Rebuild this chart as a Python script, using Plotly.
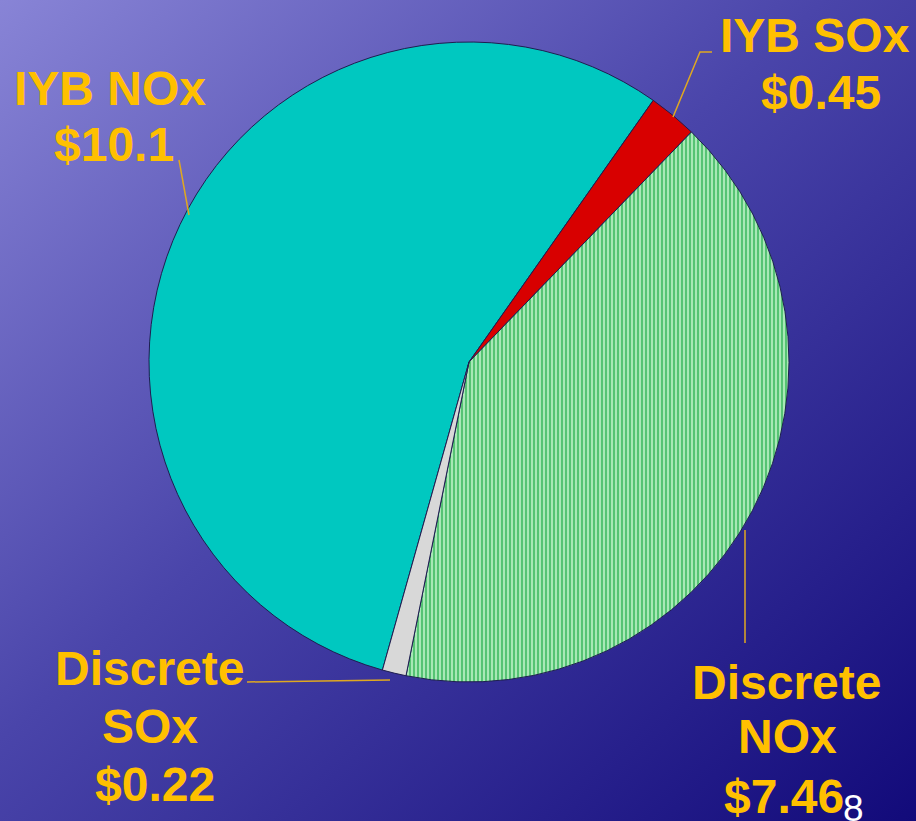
import base64
import plotly.graph_objects as go

# slice data, clockwise from the IYB NOx slice
labels = ["IYB NOx", "IYB SOx", "Discrete NOx", "Discrete SOx"]
values = [10.1, 0.45, 7.46, 0.22]
value_text = ["$10.1", "$0.45", "$7.46", "$0.22"]
label_lines = [["IYB NOx"], ["IYB SOx"], ["Discrete", "NOx"], ["Discrete", "SOx"]]

W, H = 916, 821
GOLD = "#FFC000"
FONT = "Liberation Sans, Arial, sans-serif"


def px(x, y):
    return x / W, 1 - y / H


# gradient background as an inline svg
svg = (
    f"<svg xmlns='http://www.w3.org/2000/svg' width='{W}' height='{H}'>"
    "<defs><linearGradient id='g' x1='0' y1='0' x2='1' y2='1'>"
    "<stop offset='0' stop-color='#8884D6'/>"
    "<stop offset='0.45' stop-color='#4A45AA'/>"
    "<stop offset='1' stop-color='#120A7A'/>"
    "</linearGradient></defs>"
    f"<rect width='{W}' height='{H}' fill='url(#g)'/></svg>"
)
bg = "data:image/svg+xml;base64," + base64.b64encode(svg.encode()).decode()

cx, cy, r = 469, 362, 320
x0, y0 = px(cx - r, cy - r)
x1, y1 = px(cx + r, cy + r)

colors = ["#00C8C0", "#D80000", "#A8E8B6", "#D8D8D8"]
fig = go.Figure(go.Pie(
    labels=labels,
    values=values,
    sort=False,
    direction="clockwise",
    rotation=195.7,
    textinfo="none",
    hoverinfo="label+value",
    marker=dict(
        colors=colors,
        line=dict(color="#1E1E50", width=1),
        pattern=dict(
            shape=["", "", "|", ""],
            fgcolor="#4CBF6C",
            bgcolor=colors,
            size=4,
            solidity=0.45,
            fillmode="replace",
        ),
    ),
    domain=dict(x=[x0, x1], y=[y1, y0]),
    showlegend=False,
))

# label line centers in pixels, one (x, y) per text line
label_pos = [
    [(110, 88), (114, 144)],
    [(815, 36), (821, 92)],
    [(786, 682), (787, 736), (784, 796)],
    [(149, 668), (150, 726), (155, 784)],
]
for lines, val, pos in zip(label_lines, value_text, label_pos):
    for t, (lx, ly) in zip(lines + [val], pos):
        ax, ay = px(lx, ly)
        fig.add_annotation(x=ax, y=ay, xref="paper", yref="paper", text=f"<b>{t}</b>",
                           showarrow=False, xanchor="center", yanchor="middle",
                           font=dict(family=FONT, size=48, color=GOLD))

# slide number
sx, sy = px(853, 808)
fig.add_annotation(x=sx, y=sy, xref="paper", yref="paper", text="8", showarrow=False,
                   xanchor="center", yanchor="middle",
                   font=dict(family=FONT, size=37, color="white"))

# leader lines
leaders = [
    [(179, 160), (189, 215)],
    [(712, 52), (700, 52), (673, 117)],
    [(247, 682), (390, 680)],
    [(745, 530), (745, 643)],
]
for pts in leaders:
    path = ""
    for j, (a, b) in enumerate(pts):
        qa, qb = px(a, b)
        path += ("M" if j == 0 else "L") + f"{qa},{qb} "
    fig.add_shape(type="path", path=path, xref="paper", yref="paper",
                  line=dict(color="#E0A820", width=1.5))

fig.update_layout(
    width=W, height=H,
    margin=dict(l=0, r=0, t=0, b=0),
    paper_bgcolor="#3E39A0",
    images=[dict(source=bg, xref="paper", yref="paper", x=0, y=1, sizex=1, sizey=1,
                 sizing="stretch", layer="below", xanchor="left", yanchor="top")],
)

fig.write_html("out.html", config={"displayModeBar": False},
               post_script="document.body.style.margin='0';")
